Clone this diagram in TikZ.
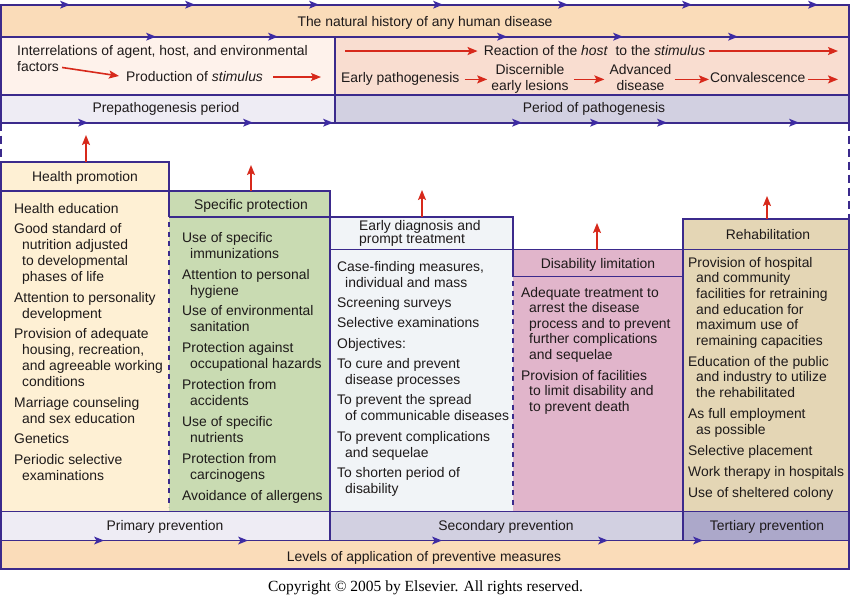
\documentclass[tikz,border=0pt]{standalone}
\usepackage{fontspec}
\setmainfont{Liberation Sans}
\newfontfamily\cprfont{Liberation Serif}
\usetikzlibrary{arrows.meta}
\definecolor{peach}{HTML}{FADCB9}
\definecolor{pinkpale}{HTML}{FEF2EB}
\definecolor{salmon}{HTML}{F9DDD0}
\definecolor{lavA}{HTML}{EEECF4}
\definecolor{lavB}{HTML}{D2D0E1}
\definecolor{lavC}{HTML}{ACA8CA}
\definecolor{cream}{HTML}{FEF0D4}
\definecolor{sage}{HTML}{C9DBB2}
\definecolor{ice}{HTML}{F1F4F7}
\definecolor{rose}{HTML}{E1B5CB}
\definecolor{tan}{HTML}{E4D6B5}
\definecolor{bordc}{HTML}{3B2A8C}
\definecolor{arrowc}{HTML}{3D2BA3}
\definecolor{redc}{HTML}{D7291B}
\definecolor{txtc}{HTML}{1E1A1A}
\newcommand\fs{\fontsize{13.9pt}{16pt}\selectfont}
\newcommand\itm{\par\hangindent=8pt\hangafter=1\relax}
\newcommand\colbody[3]{\parbox[t]{250pt}{\fs\raggedright\parindent=0pt\parskip=#1\baselineskip=#2\relax
  \hangindent=8pt\hangafter=1\relax\rule{0pt}{10.5pt}#3\par}}
\tikzset{btip/.pic={\fill[arrowc] (0,0) -- (-10,-4) -- (-7.5,0) -- (-10,4) -- cycle;}}
\begin{document}
\begin{tikzpicture}[x=1pt,y=-1pt,
  bord/.style={draw=bordc, line width=1.7pt},
  dshout/.style={draw=bordc, line width=1.7pt, dash pattern=on 8pt off 5pt},
  dshin/.style={draw=bordc, line width=1.4pt, dash pattern=on 5pt off 4.5pt},
  redarr/.style={draw=redc, line width=1.6pt, -{Stealth[length=10pt,width=8pt,inset=2pt]}},
  lbl/.style={inner sep=0pt, font=\fs, text=txtc},
  body/.style={inner sep=0pt, anchor=north west, text=txtc}]
\useasboundingbox (0,0) rectangle (851,596);
\fill[white] (0,0) rectangle (851,596);
% fills
\fill[peach] (1,4.7) rectangle (849,36.7);
\fill[pinkpale] (1,36.7) rectangle (335,95);
\fill[salmon] (335,36.7) rectangle (849,95);
\fill[lavA] (1,95) rectangle (335,122.7);
\fill[lavB] (335,95) rectangle (849,122.7);
\fill[cream] (1,162) rectangle (169,511.5);
\fill[sage] (169,191) rectangle (330,511.5);
\fill[ice] (330,217) rectangle (513,511.5);
\fill[rose] (513,249.5) rectangle (683,511.5);
\fill[tan] (683,219) rectangle (849,511.5);
\fill[lavA] (1,511.5) rectangle (330,540.5);
\fill[lavB] (330,511.5) rectangle (683,540.5);
\fill[lavC] (683,511.5) rectangle (849,540.5);
\fill[peach] (1,540.5) rectangle (849,569);
% borders
\draw[bord] (1,4.7) rectangle (849,122.7);
\draw[bord] (1,36.7) -- (849,36.7);
\draw[bord] (1,95) -- (849,95);
\draw[bord] (335,36.7) -- (335,122.7);
\draw[bord] (169,217) -- (169,162) -- (1,162) -- (1,569) -- (849,569) -- (849,219) -- (683,219) -- (683,540.5);
\draw[bord] (1,191) -- (330,191) -- (330,540.5);
\draw[bord] (169,217) -- (513,217) -- (513,276.5);
\draw[bord] (330,249.5) -- (849,249.5);
\draw[bord] (513,276.5) -- (683,276.5);
\draw[bord] (1,511.5) -- (849,511.5);
\draw[bord] (1,540.5) -- (849,540.5);
\draw[dshout] (1,122.7) -- (1,162);
\draw[dshout] (849,122.7) -- (849,219);
\draw[dshin] (169,222) -- (169,507);
\draw[dshin] (513,281) -- (513,507);
% blue arrowheads
\foreach \x in {70,195,319,443,568,692,818} \pic at (\x,4.7) {btip};
\foreach \x in {156,278,507,623,738} \pic at (\x,36.7) {btip};
\foreach \x in {88,253,333,522,600,667,799} \pic at (\x,122.7) {btip};
\foreach \x in {104,248,442,608,703} \pic at (\x,540.5) {btip};
% top texts
\node[lbl, anchor=base] (nh) at (425,27) {The natural history of any human disease};
\node[lbl, anchor=base west] (inter) at (17,56) {Interrelations of agent, host, and environmental};
\node[lbl, anchor=base west] (fac) at (17,72) {factors};
\node[lbl, anchor=base west] (prod) at (126,82) {Production of \textit{stimulus}};
\coordinate (xa) at (321,0);
\draw[redarr, shorten <=3pt, shorten >=7pt] (fac.east) -- (prod.west);
\draw[redarr, shorten <=10pt] (prod.east) -- (prod.east -| xa);
\node[lbl, anchor=base] (react) at (594.5,56) {Reaction of the \textit{host}\ \ to the \textit{stimulus}};
\coordinate (rs) at (345,0);
\coordinate (re) at (838,0);
\draw[redarr, shorten >=6pt] (react.west -| rs) -- (react.west);
\draw[redarr, shorten <=4pt] (react.east) -- (react.east -| re);
\node[lbl, anchor=base west] (early) at (341,83) {Early pathogenesis};
\node[lbl, anchor=north, align=center] (disc) at (530,64) {Discernible\\early lesions};
\node[lbl, anchor=north, align=center] (adv) at (640.5,64) {Advanced\\disease};
\node[lbl, anchor=base west] (conv) at (710,83) {Convalescence};
\draw[redarr, shorten <=5pt, shorten >=4pt] (early.east) -- (early.east -| disc.west);
\draw[redarr, shorten <=5pt, shorten >=5pt] (disc.east |- early.east) -- (adv.west |- early.east);
\draw[redarr, shorten <=3pt, shorten >=1pt] (adv.east |- early.east) -- (conv.west |- early.east);
\draw[redarr, shorten <=3pt] (conv.east |- early.east) -- (early.east -| re);
\node[lbl, anchor=base] (pre) at (166,113) {Prepathogenesis period};
\node[lbl, anchor=base] (pp) at (594,113) {Period of pathogenesis};
% headers
\node[lbl, anchor=base] (hph) at (85,182) {Health promotion};
\node[lbl, anchor=base] (sph) at (251,210) {Specific protection};
\node[lbl, anchor=north west, align=left, font=\fontsize{13.9pt}{13.3pt}\selectfont] (edh) at (359,220) {Early diagnosis and\\prompt treatment};
\node[lbl, anchor=base] (dlh) at (598,268) {Disability limitation};
\node[lbl, anchor=base] (rhh) at (768,239) {Rehabilitation};
% red up arrows
\coordinate (a1) at (86,162); \coordinate (b1) at (86,135);
\coordinate (a2) at (251,191); \coordinate (b2) at (251,165);
\coordinate (a3) at (422,217); \coordinate (b3) at (422,190);
\coordinate (a4) at (597,249.5); \coordinate (b4) at (597,223);
\coordinate (a5) at (767,219); \coordinate (b5) at (767,196);
\draw[redarr] (a1) -- (b1);
\draw[redarr] (a2) -- (b2);
\draw[redarr] (a3) -- (b3);
\draw[redarr] (a4) -- (b4);
\draw[redarr] (a5) -- (b5);
% bodies
\node[body] (hpb) at (14,202.5) {\colbody{4.5pt}{16pt}{%
Health education
\itm Good standard of\break nutrition adjusted\break to developmental\break phases of life
\itm Attention to personality\break development
\itm Provision of adequate\break housing, recreation,\break and agreeable working\break conditions
\itm Marriage counseling\break and sex education
\itm Genetics
\itm Periodic selective\break examinations}};
\node[body] (spb) at (182,231.5) {\colbody{4.9pt}{16pt}{%
Use of specific\break immunizations
\itm Attention to personal\break hygiene
\itm Use of environmental\break sanitation
\itm Protection against\break occupational hazards
\itm Protection from\break accidents
\itm Use of specific\break nutrients
\itm Protection from\break carcinogens
\itm Avoidance of allergens}};
\node[body] (edb) at (337,260.5) {\colbody{4.3pt}{16pt}{%
Case-finding measures,\break individual and mass
\itm Screening surveys
\itm Selective examinations
\itm Objectives:
\itm To cure and prevent\break disease processes
\itm To prevent the spread\break of communicable diseases
\itm To prevent complications\break and sequelae
\itm To shorten period of\break disability}};
\node[body] (dlb) at (521,286.5) {\colbody{5.5pt}{15.5pt}{%
Adequate treatment to\break arrest the disease\break process and to prevent\break further complications\break and sequelae
\itm Provision of facilities\break to limit disability and\break to prevent death}};
\node[body] (rhb) at (688,256.5) {\colbody{5.4pt}{15.6pt}{%
Provision of hospital\break and community\break facilities for retraining\break and education for\break maximum use of\break remaining capacities
\itm Education of the public\break and industry to utilize\break the rehabilitated
\itm As full employment\break as possible
\itm Selective placement
\itm Work therapy in hospitals
\itm Use of sheltered colony}};
% bottom bands
\node[lbl, anchor=base] (prim) at (165,530) {Primary prevention};
\node[lbl, anchor=base] (sec) at (506,530) {Secondary prevention};
\node[lbl, anchor=base] (ter) at (767,530) {Tertiary prevention};
\node[lbl, anchor=base] (lev) at (424,561) {Levels of application of preventive measures};
\node[inner sep=0pt, anchor=base, font=\cprfont\fontsize{15.5pt}{18pt}\selectfont, text=black] (cpr) at (425.5,591) {Copyright © 2005 by Elsevier. All rights reserved.};
\end{tikzpicture}
\end{document}
